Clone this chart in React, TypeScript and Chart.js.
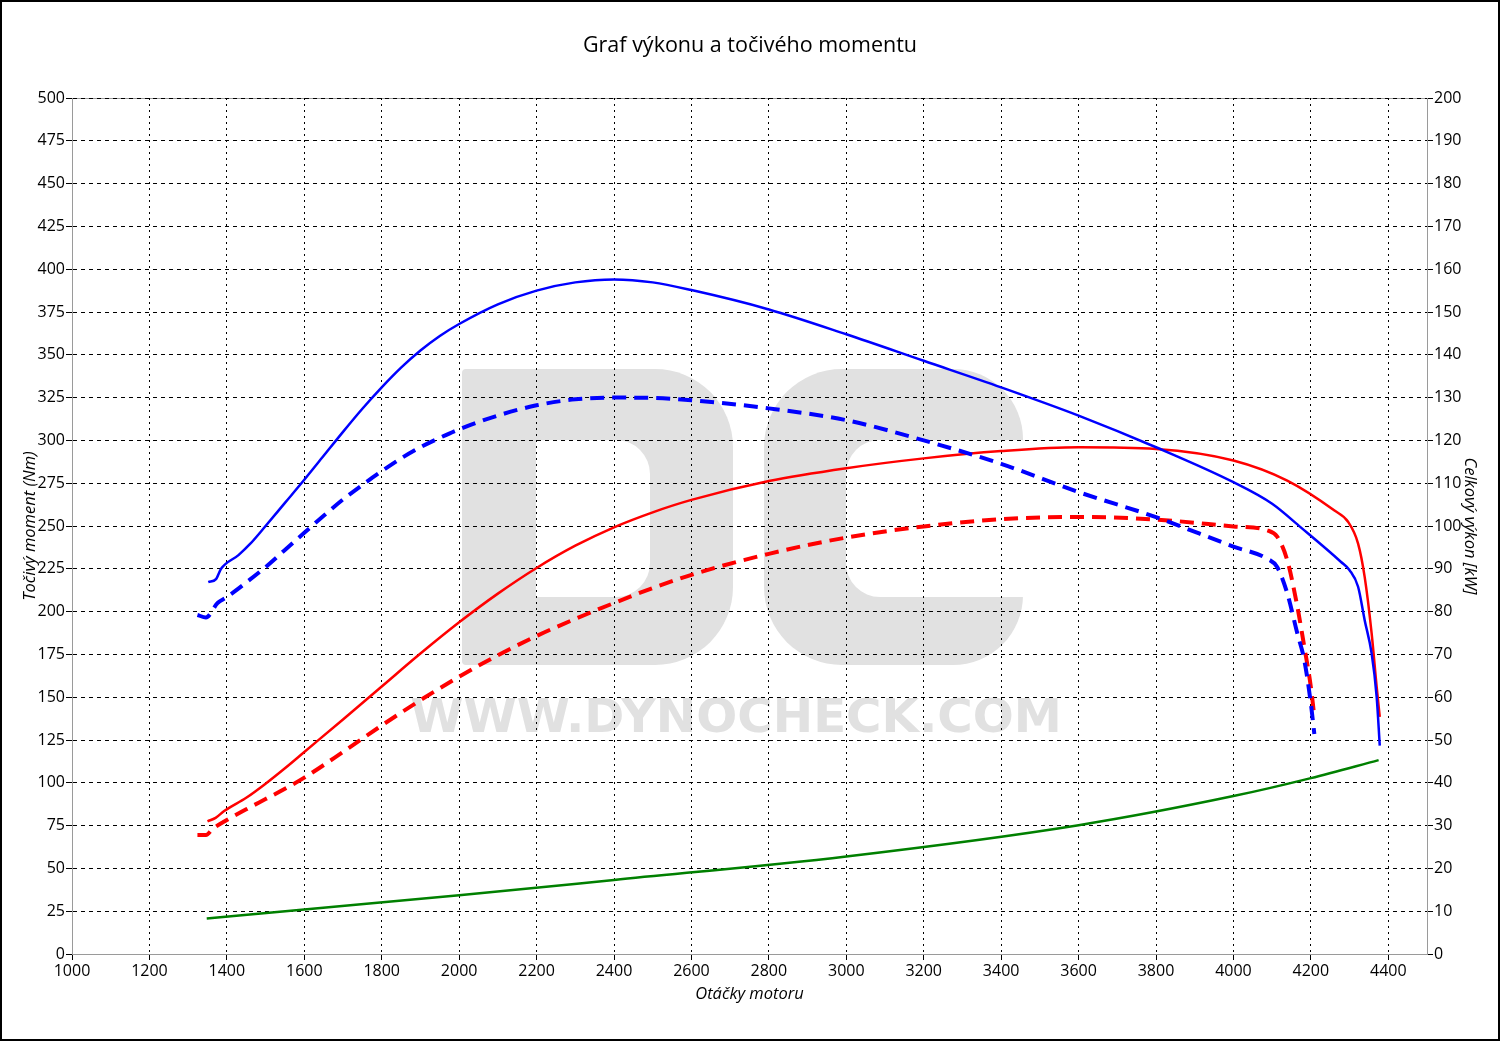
import React, { useEffect, useRef } from 'react';
import { Chart, registerables } from 'chart.js';

Chart.register(...registerables);

// ---------- Data ----------
const TITLE = 'Graf výkonu a točivého momentu';
const X_TITLE = 'Otáčky motoru';
const Y_TITLE = 'Točivý moment (Nm)';
const Y1_TITLE = 'Celkový výkon [kW]';

const X_MIN = 1000;
const X_MAX = 4500;
const X_STEP = 200;
const TORQUE_MAX = 500;
const TORQUE_STEP = 25;
const POWER_MAX = 200;
const POWER_STEP = 10;

// Torque after tuning (Nm) – solid blue
const RPM_TORQUE_TUNED = [1352, 1372, 1385, 1430, 1460, 1500, 1550, 1600, 1650, 1700, 1750, 1800, 1850, 1900, 1950, 2000, 2100, 2200, 2300, 2400, 2500, 2600, 2800, 3000, 3200, 3400, 3600, 3800, 4000, 4100, 4174, 4278, 4300, 4322, 4339, 4357, 4370, 4378];
const TORQUE_TUNED = [217.2, 219, 225, 233, 239.5, 250, 263.5, 277, 291, 305, 318.5, 331, 342.5, 352.5, 361, 368, 379.5, 387.5, 392.3, 394, 392.3, 387.8, 376.5, 362, 346.5, 331, 314.5, 296, 275.6, 263, 249.2, 229, 224.2, 214.5, 195, 175.6, 150.2, 121.7];

// Torque stock (Nm) – dashed blue
const RPM_TORQUE_STOCK = [1324, 1346, 1376, 1400, 1450, 1500, 1550, 1600, 1650, 1700, 1750, 1800, 1850, 1900, 1950, 2000, 2100, 2200, 2300, 2400, 2500, 2600, 2800, 3000, 3200, 3400, 3600, 3800, 3913, 4000, 4087, 4113, 4139, 4165, 4183, 4200, 4209];
const TORQUE_STOCK = [198, 196.6, 205, 208.5, 217, 226, 236, 246, 256, 265.5, 274, 282, 289.5, 296, 301.5, 306.5, 314.5, 320.5, 324, 325, 324.8, 323.5, 318.7, 311.8, 300, 286.3, 269.8, 255.2, 245.5, 238, 230.9, 226, 210.7, 187.3, 171.7, 146.3, 128.5];

// Power after tuning (kW) – solid red
const RPM_POWER_TUNED = [1350, 1371, 1393, 1450, 1500, 1550, 1600, 1700, 1800, 1900, 2000, 2100, 2200, 2300, 2400, 2500, 2600, 2800, 3000, 3200, 3400, 3600, 3800, 4000, 4139, 4261, 4296, 4322, 4339, 4357, 4370, 4378];
const POWER_TUNED = [31, 31.8, 33.4, 36.5, 39.8, 43.4, 47.2, 54.8, 62.5, 70.2, 77.5, 84.2, 90.2, 95.4, 99.7, 103.2, 106.1, 110.5, 113.5, 115.8, 117.5, 118.4, 118, 115.3, 110.6, 103.6, 101, 95.9, 88.1, 74.9, 62.4, 55.4];

// Power stock (kW) – dashed red
const RPM_POWER_STOCK = [1324, 1346, 1363, 1400, 1450, 1500, 1550, 1600, 1700, 1800, 1900, 2000, 2100, 2200, 2300, 2400, 2500, 2600, 2800, 3000, 3200, 3400, 3600, 3800, 4000, 4087, 4113, 4139, 4165, 4183, 4200, 4209];
const POWER_STOCK = [27.8, 27.8, 29.2, 31.3, 33.8, 36.2, 38.6, 41.2, 47.2, 53.4, 59.3, 64.8, 69.8, 74.3, 78.3, 82, 85.5, 88.6, 93.5, 97.3, 99.9, 101.6, 102.1, 101.5, 99.9, 99, 97.5, 92, 81.2, 71.8, 62.4, 55.4];

// Loss power (kW) – green
const RPM_LOSS = [1348, 1600, 2000, 2400, 3000, 3600, 4000, 4200, 4375];
const POWER_LOSS = [8.3, 10.4, 13.7, 17.3, 22.8, 30.1, 36.9, 41.1, 45.3];

const WATERMARK_URL = 'WWW.DYNOCHECK.COM';

// ---------- Helpers ----------
const FONT = "'Open Sans', 'Noto Sans', sans-serif";
const WM_GRAY = '#e1e1e1';

const pts = (xs: number[], ys: number[]) => xs.map((x, i) => ({ x, y: ys[i] }));

function fitText(ctx: CanvasRenderingContext2D, text: string, font: string, x0: number, y0: number, x1: number, y1: number) {
  ctx.save();
  ctx.font = font;
  ctx.textAlign = 'left';
  ctx.textBaseline = 'alphabetic';
  const m = ctx.measureText(text);
  const w = m.actualBoundingBoxLeft + m.actualBoundingBoxRight;
  const h = m.actualBoundingBoxAscent + m.actualBoundingBoxDescent;
  ctx.translate(x0, y0);
  ctx.scale((x1 - x0) / w, (y1 - y0) / h);
  ctx.fillText(text, m.actualBoundingBoxLeft, m.actualBoundingBoxAscent);
  ctx.restore();
}

function rr(ctx: CanvasRenderingContext2D, x0: number, y0: number, x1: number, y1: number, r: number[], color: string) {
  ctx.beginPath();
  (ctx as any).roundRect(x0, y0, x1 - x0, y1 - y0, r);
  ctx.fillStyle = color;
  ctx.fill();
}

const decorPlugin = {
  id: 'decor',
  beforeDraw(chart: any) {
    const { ctx, chartArea: a } = chart;
    ctx.save();
    ctx.fillStyle = '#ffffff';
    ctx.fillRect(0, 0, chart.width, chart.height);
    // "D" logo letter
    rr(ctx, 462, 369, 733, 665, [4, 78, 78, 4], WM_GRAY);
    rr(ctx, 536, 440, 650, 597, [0, 34, 34, 0], '#ffffff');
    // "C" logo letter
    rr(ctx, 764, 369, 1023, 665, [78, 70, 70, 78], WM_GRAY);
    rr(ctx, 846, 440, 1030, 597, [34, 0, 0, 34], '#ffffff');
    ctx.fillStyle = '#ffffff';
    ctx.fillRect(942, 477, 90, 76);
    ctx.fillStyle = WM_GRAY;
    fitText(ctx, WATERMARK_URL, `bold 60px 'DejaVu Sans', sans-serif`, 411, 698, 1058, 733);
    ctx.strokeStyle = '#9a9a9a';
    ctx.lineWidth = 1;
    ctx.strokeRect(Math.round(a.left) + 0.5, Math.round(a.top) + 0.5, Math.round(a.right - a.left), Math.round(a.bottom - a.top));
    ctx.restore();
  },
  afterDraw(chart: any) {
    const { ctx } = chart;
    ctx.save();
    ctx.strokeStyle = '#000';
    ctx.lineWidth = 2;
    ctx.strokeRect(1, 1, chart.width - 2, chart.height - 2);
    ctx.restore();
  },
};

export default function App() {
  const ref = useRef<HTMLCanvasElement | null>(null);

  useEffect(() => {
    if (!ref.current) return;
    const tickFont = { family: FONT, size: 16 };
    const titleFont = { family: FONT, size: 16.5, style: 'italic' as const };
    const chart = new Chart(ref.current, {
      type: 'line',
      data: {
        datasets: [
          {
            label: 'Točivý moment – úprava',
            data: pts(RPM_TORQUE_TUNED, TORQUE_TUNED),
            borderColor: '#0000ff',
            borderWidth: 2.5,
            yAxisID: 'y',
          },
          {
            label: 'Točivý moment – sériový',
            data: pts(RPM_TORQUE_STOCK, TORQUE_STOCK),
            borderColor: '#0000ff',
            borderWidth: 4,
            borderDash: [14, 8],
            yAxisID: 'y',
          },
          {
            label: 'Výkon – úprava',
            data: pts(RPM_POWER_TUNED, POWER_TUNED),
            borderColor: '#ff0000',
            borderWidth: 2.5,
            yAxisID: 'y1',
          },
          {
            label: 'Výkon – sériový',
            data: pts(RPM_POWER_STOCK, POWER_STOCK),
            borderColor: '#ff0000',
            borderWidth: 4,
            borderDash: [14, 8],
            yAxisID: 'y1',
          },
          {
            label: 'Ztráty',
            data: pts(RPM_LOSS, POWER_LOSS),
            borderColor: '#008000',
            borderWidth: 2.5,
            yAxisID: 'y1',
          },
        ],
      },
      options: {
        responsive: false,
        animation: false,
        devicePixelRatio: 1,
        layout: { padding: 0 },
        elements: {
          point: { radius: 0, hoverRadius: 0 },
          line: { fill: false, cubicInterpolationMode: 'monotone' },
        },
        plugins: {
          legend: { display: false },
          tooltip: { enabled: false },
          title: {
            display: true,
            text: TITLE,
            color: '#000',
            font: { family: FONT, size: 21.5, weight: 'normal', lineHeight: 1.2 },
            padding: { top: 33, bottom: 39.2 },
          },
        },
        scales: {
          x: {
            type: 'linear',
            min: X_MIN,
            max: X_MAX,
            ticks: {
              stepSize: X_STEP,
              includeBounds: false,
              autoSkip: false,
              maxRotation: 0,
              color: '#000',
              font: tickFont,
              padding: 2,
              callback: (v: any) => String(v),
            },
            grid: { color: '#000', lineWidth: 1, tickColor: '#000', tickLength: 6 },
            border: { color: '#9a9a9a', width: 1, dash: [2, 4] },
            title: { display: true, text: X_TITLE, color: '#000', font: titleFont, padding: { top: 0, bottom: 37 } },
            afterFit: (s: any) => { s.height = 87; },
          },
          y: {
            type: 'linear',
            position: 'left',
            min: 0,
            max: TORQUE_MAX,
            ticks: { stepSize: TORQUE_STEP, color: '#000', font: tickFont, padding: 1 },
            grid: { color: '#000', lineWidth: 1, tickColor: '#000', tickLength: 6 },
            border: { color: '#9a9a9a', width: 1, dash: [4, 4] },
            title: { display: true, text: Y_TITLE, color: '#000', font: titleFont, padding: { top: 20, bottom: 0 } },
            afterFit: (s: any) => { s.width = 72; },
          },
          y1: {
            type: 'linear',
            position: 'right',
            min: 0,
            max: POWER_MAX,
            ticks: { stepSize: POWER_STEP, color: '#000', font: tickFont, padding: 1 },
            grid: { drawOnChartArea: false, color: '#000', tickColor: '#000', tickLength: 6 },
            border: { color: '#9a9a9a', width: 1 },
            title: { display: true, text: Y1_TITLE, color: '#000', font: titleFont, padding: { top: 20, bottom: 0 } },
            afterFit: (s: any) => { s.width = 73; },
          },
        },
      } as any,
      plugins: [decorPlugin],
    });
    return () => chart.destroy();
  }, []);

  return (
    <div style={{ position: 'fixed', left: 0, top: 0, width: 1500, height: 1041, background: '#fff' }}>
      <canvas ref={ref} width={1500} height={1041} style={{ display: 'block', width: 1500, height: 1041 }} />
    </div>
  );
}
